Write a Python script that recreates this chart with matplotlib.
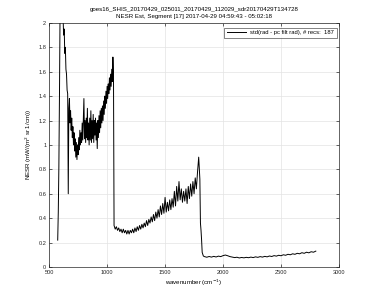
import numpy as np
import matplotlib
matplotlib.use('Agg')
import matplotlib.pyplot as plt

plt.rcParams['font.family'] = ['Liberation Sans', 'DejaVu Sans']

title1 = "goes16_SHIS_20170429_025011_20170429_112029_sdr20170429T134728"
title2 = "NESR Est, Segment [17] 2017-04-29 04:59:43 - 05:02:18"
legendLabel = "std(rad - pc filt rad), # recs:  187"

#leading edge of the longwave band
edgeWn = [574, 579, 584, 590, 595]
edgeNesr = [0.22, 0.45, 0.82, 1.5, 2.2]

#longwave band, 600 - 1055 every 5
lwStart, lwStep = 600, 5
lwNesr = [2.6, 2.3, 2.45, 2.1, 2.05, 1.9, 1.95, 1.75, 1.8, 1.62,
          1.58, 1.45, 1.42, 0.60, 1.30, 1.38, 1.18, 1.28, 1.12, 1.22,
          1.06, 1.15, 1.0, 1.1, 0.95, 1.05, 0.9, 1.02, 0.88, 1.0,
          0.92, 1.06, 0.96, 1.12, 1.0, 1.1, 1.02, 1.18, 1.04, 1.2,
          1.38, 1.05, 1.2, 1.02, 1.22, 1.06, 1.3, 1.04, 1.18, 1.0,
          1.22, 1.04, 1.28, 1.02, 1.2, 1.05, 1.25, 1.02, 1.2, 1.08,
          1.22, 1.04, 1.18, 0.97, 1.2, 1.06, 1.24, 1.1, 1.28, 1.14,
          1.3, 1.18, 1.32, 1.2, 1.36, 1.25, 1.4, 1.3, 1.44, 1.34,
          1.48, 1.38, 1.5, 1.42, 1.55, 1.45, 1.58, 1.48, 1.62, 1.52,
          1.72, 1.6]

#midwave band, 1060 - 1800 every 10
mwStart, mwStep = 1060, 10
mwNesr = [0.34, 0.31, 0.33, 0.30, 0.32, 0.29, 0.31, 0.28, 0.31, 0.28,
          0.30, 0.27, 0.30, 0.27, 0.30, 0.28, 0.31, 0.28, 0.32, 0.29,
          0.33, 0.30, 0.34, 0.31, 0.35, 0.32, 0.36, 0.33, 0.38, 0.34,
          0.39, 0.36, 0.41, 0.37, 0.43, 0.38, 0.45, 0.40, 0.47, 0.41,
          0.50, 0.43, 0.52, 0.44, 0.57, 0.45, 0.53, 0.46, 0.55, 0.47,
          0.56, 0.49, 0.62, 0.50, 0.66, 0.54, 0.70, 0.55, 0.64, 0.53,
          0.62, 0.54, 0.64, 0.52, 0.66, 0.56, 0.68, 0.58, 0.70, 0.60,
          0.73, 0.64, 0.78, 0.90, 0.72]

#drop off at the band edge
dropWn = [1805, 1810, 1815, 1820, 1830]
dropNesr = [0.36, 0.30, 0.22, 0.12, 0.09]

#shortwave band, 1840 - 2800 every 20
swStart, swStep = 1840, 20
swNesr = [0.085, 0.080, 0.086, 0.081, 0.087, 0.082, 0.089, 0.085, 0.093, 0.098,
          0.092, 0.085, 0.081, 0.077, 0.080, 0.074, 0.078, 0.075, 0.079, 0.076,
          0.081, 0.077, 0.083, 0.079, 0.085, 0.081, 0.087, 0.083, 0.090, 0.086,
          0.093, 0.089, 0.096, 0.092, 0.100, 0.096, 0.104, 0.100, 0.108, 0.104,
          0.112, 0.108, 0.117, 0.112, 0.121, 0.116, 0.125, 0.121, 0.130]

lwWn = lwStart + lwStep*np.arange(len(lwNesr))
mwWn = mwStart + mwStep*np.arange(len(mwNesr))
swWn = swStart + swStep*np.arange(len(swNesr))

wn = np.concatenate([edgeWn, lwWn, mwWn, dropWn, swWn])
nesr = np.concatenate([edgeNesr, lwNesr, mwNesr, dropNesr, swNesr])

fig = plt.figure(figsize=(3.75, 3.01), dpi=100)
ax = fig.add_axes([0.131, 0.113, 0.773, 0.811])
ax.plot(wn, nesr, color='k', lw=0.7, label=legendLabel)

ax.set_xlim([500, 3000])
ax.set_ylim([0, 2])
ax.set_xticks(np.arange(500, 3001, 500))
ax.set_yticks(np.arange(0, 2.01, 0.2))
ax.set_yticklabels(['0', '0.2', '0.4', '0.6', '0.8', '1', '1.2', '1.4', '1.6', '1.8', '2'])
ax.grid(True, color='#e3e3e3', lw=0.5)
ax.set_axisbelow(True)
ax.tick_params(direction='in', length=2, width=0.5, labelsize=4.1,
               top=True, right=True, colors='#262626', pad=2)
for s in ax.spines.values():
    s.set_linewidth(0.5)
    s.set_color('#262626')

ax.set_xlabel("wavenumber (cm$^{-1}$)", fontsize=4.4, labelpad=2)
ax.set_ylabel("NESR (mW/(m$^{2}$ sr 1/cm))", fontsize=4.4, labelpad=3)
ax.set_title(title1 + "\n" + title2, fontsize=4.4, pad=3.5, linespacing=1.5)

leg = ax.legend(loc='upper right', bbox_to_anchor=(0.992, 0.98), borderaxespad=0,
                fontsize=4.25, frameon=True, fancybox=False,
                handlelength=3.2, handletextpad=0.8, borderpad=0.4)
leg.get_frame().set_edgecolor('#262626')
leg.get_frame().set_linewidth(0.5)

fig.savefig('out.png', dpi=100)
